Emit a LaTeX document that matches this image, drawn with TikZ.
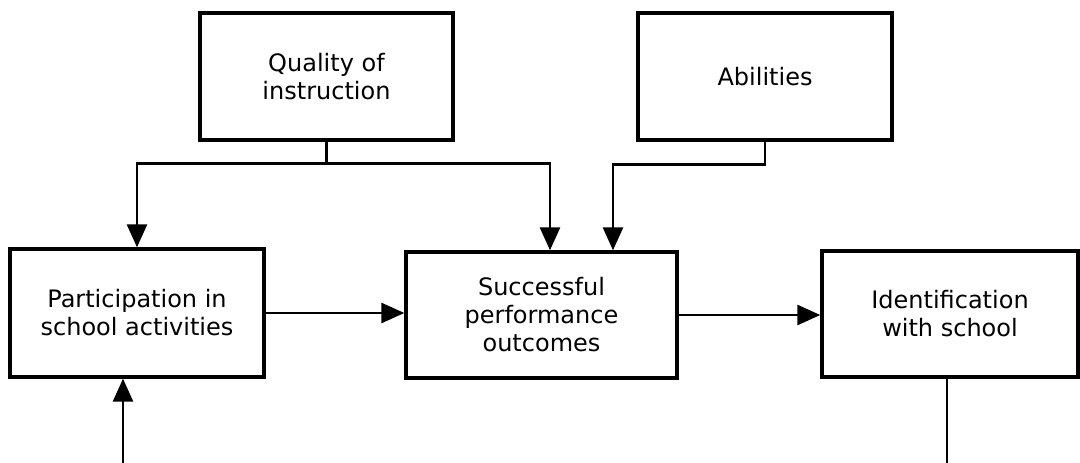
\documentclass[tikz,border=0pt]{standalone}
\usepackage{fontspec}
\setmainfont{DejaVu Sans}
\usetikzlibrary{arrows.meta,calc}
\begin{document}
\begin{tikzpicture}[x=1pt,y=-1pt,
  box/.style={draw, line width=3.4pt, rectangle, inner sep=0pt, align=center,
    font=\fontsize{24}{28}\selectfont},
  conn/.style={line width=2.8pt},
  arr/.style={conn, -{Triangle[length=23pt,width=20pt]}}]
\useasboundingbox (0,0) rectangle (1080,463);
\node[box, minimum width=253pt, minimum height=127pt] (Q) at (326.5,76.5) {Quality of\\instruction};
\node[box, minimum width=254pt, minimum height=127pt] (A) at (765,76.5) {Abilities};
\node[box, minimum width=254pt, minimum height=128pt] (P) at (137,313) {Participation in\\school activities};
\node[box, minimum width=271pt, minimum height=126pt] (S) at (541.5,315) {Successful\\performance\\outcomes};
\node[box, minimum width=256pt, minimum height=126pt] (I) at (950,314) {Identification\\with school};
\coordinate (b1) at (123,463);
\coordinate (b2) at (947,463);
\draw[arr] (Q.south) -- ++(0,22) -| (P.north);
\draw[arr] (Q.south) -- ++(0,22) -| ([xshift=8.5pt]S.north);
\draw[arr] (A.south) -- ++(0,23) -| ([xshift=71.5pt]S.north);
\draw[arr] (P.east) -- (P.east -| S.west);
\draw[arr] (S.east) -- (S.east -| I.west);
\draw[arr] (b1) -- (b1 |- P.south);
\draw[conn] (b2 |- I.south) -- (b2);
\end{tikzpicture}
\end{document}
